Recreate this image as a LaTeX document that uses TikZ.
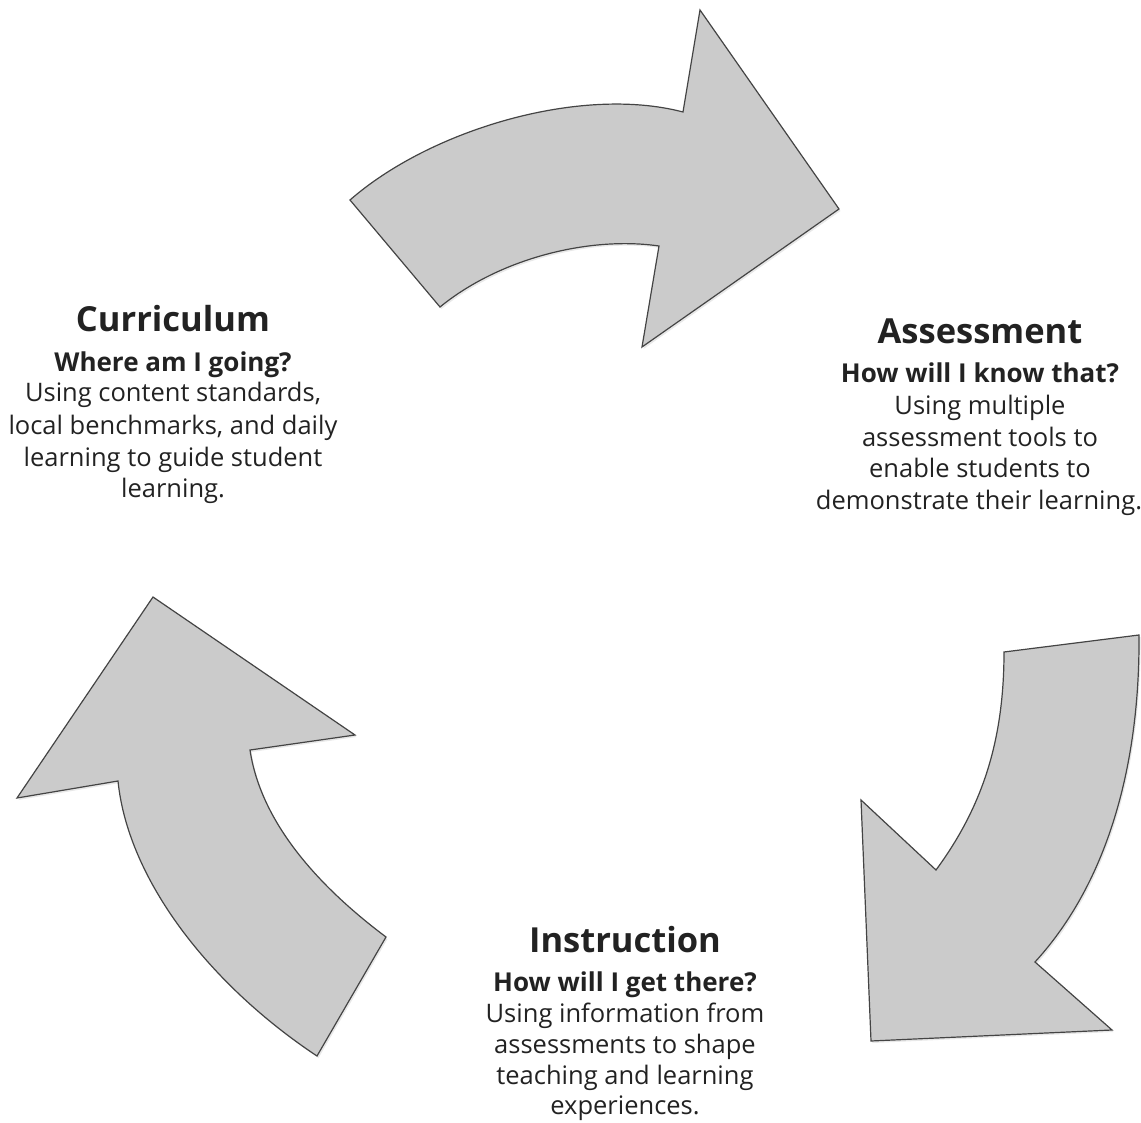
\documentclass[tikz,border=0pt]{standalone}
\usepackage{fontspec}
\setmainfont{Open Sans}
\usetikzlibrary{shadows}
\definecolor{arrowfill}{HTML}{CBCBCB}
\definecolor{arrowline}{HTML}{444444}
\definecolor{inktext}{HTML}{222222}
\tikzset{
  cyclearrow/.style={fill=arrowfill, draw=arrowline, line width=1.2pt, line join=miter,
    drop shadow={opacity=0.18, shadow xshift=1.5pt, shadow yshift=-2pt}},
  headline/.style={anchor=base, text=inktext, font=\bfseries\fontsize{34.5}{38}\selectfont, inner sep=0pt},
  question/.style={anchor=base, text=inktext, font=\bfseries\fontsize{26}{30}\selectfont, inner sep=0pt},
  bodyline/.style={anchor=base, text=inktext, font=\fontsize{25.5}{30}\selectfont, inner sep=0pt}
}
\begin{document}
\begin{tikzpicture}[x=1pt,y=-1pt]
\useasboundingbox (0,0) rectangle (1141,1123);
% top arrow
\path[cyclearrow] (350,200) .. controls (430,130) and (580,85) .. (683,112)
  -- (700,10) -- (839,209) -- (642,347) -- (659,246)
  .. controls (590,236) and (500,258) .. (440,307) -- cycle;
% right arrow
\path[cyclearrow] (1139,635) .. controls (1140,760) and (1110,880) .. (1035,962)
  -- (1112,1030) -- (871,1041) -- (861,800) -- (936,870)
  .. controls (980,810) and (1004,745) .. (1004,652) -- cycle;
% left arrow
\path[cyclearrow] (317,1056) .. controls (210,985) and (128,880) .. (118,781)
  -- (17,798) -- (153,597) -- (355,735) -- (250,750)
  .. controls (262,830) and (330,895) .. (386,937) -- cycle;
% Curriculum
\node[headline] (cur0) at (173,332) {Curriculum};
\node[question] (cur1) at (173,372) {Where am I going?};
\node[bodyline] (cur2) at (173,402) {Using content standards,};
\node[bodyline] (cur3) at (173,434) {local benchmarks, and daily};
\node[bodyline] (cur4) at (173,466) {learning to guide student};
\node[bodyline] (cur5) at (173,497) {learning.};
% Assessment
\node[headline] (ass0) at (980,344) {Assessment};
\node[question] (ass1) at (980,382) {How will I know that?};
\node[bodyline] (ass2) at (980,414) {Using multiple};
\node[bodyline] (ass3) at (980,446) {assessment tools to};
\node[bodyline] (ass4) at (980,477) {enable students to};
\node[bodyline] (ass5) at (979,509) {demonstrate their learning.};
% Instruction
\node[headline] (ins0) at (625,952) {Instruction};
\node[question] (ins1) at (625,991) {How will I get there?};
\node[bodyline] (ins2) at (625,1022) {Using information from};
\node[bodyline] (ins3) at (625,1053) {assessments to shape};
\node[bodyline] (ins4) at (625,1084) {teaching and learning};
\node[bodyline] (ins5) at (625,1114) {experiences.};
\end{tikzpicture}
\end{document}
